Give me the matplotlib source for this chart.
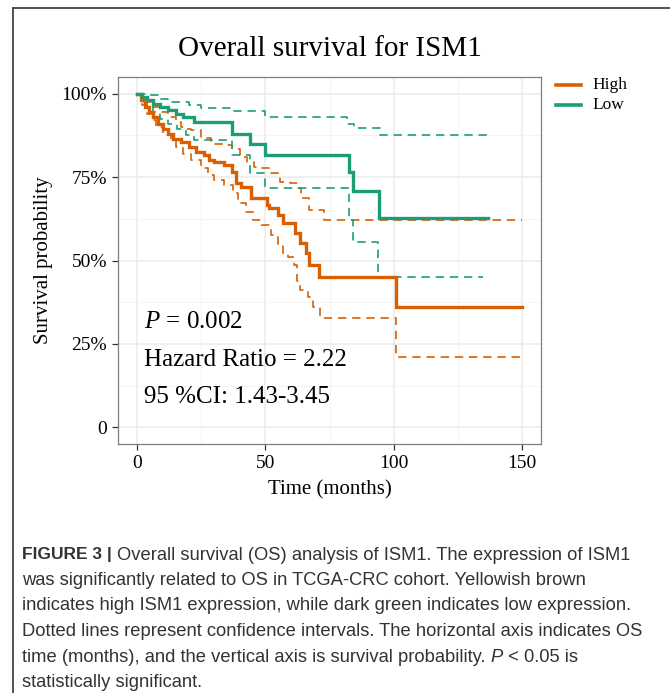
import matplotlib
matplotlib.use("Agg")
import matplotlib.pyplot as plt
from matplotlib.lines import Line2D

# --- Data ---
high_t = [0, 1.5, 3, 4.5, 6, 8, 10, 12, 14, 17, 20, 23, 26, 28, 30, 34, 37, 38.6, 40.5,
          44.5, 50.5, 51.5, 55, 57, 61.5, 63.5, 66, 67, 71, 101, 150]
high_s = [1.0, 0.98, 0.96, 0.945, 0.93, 0.91, 0.895, 0.88, 0.865, 0.855, 0.84, 0.825, 0.815,
          0.80, 0.795, 0.786, 0.766, 0.731, 0.72, 0.686, 0.666, 0.656, 0.636, 0.611, 0.581,
          0.551, 0.521, 0.487, 0.45, 0.36, 0.36]

high_up_t = [0, 2, 4, 6, 9, 12, 15, 17, 19, 21, 25, 28.8, 34, 37, 40, 43, 45.7, 47.7, 51.6,
             55.5, 59.4, 62.7, 64, 66.9, 73, 150]
high_up_s = [1.0, 0.99, 0.975, 0.96, 0.945, 0.93, 0.915, 0.90, 0.895, 0.89, 0.866, 0.85,
             0.845, 0.835, 0.81, 0.795, 0.78, 0.776, 0.761, 0.736, 0.731, 0.716, 0.686,
             0.651, 0.622, 0.622]

high_lo_t = [0, 2, 4, 6, 7.5, 10, 13, 15, 17.7, 21, 25, 27.5, 30, 34, 37.3, 39.3, 42.5, 45,
             48.4, 52.3, 55, 57, 59, 61, 62.5, 63.5, 66.7, 68.6, 71.2, 101, 150]
high_lo_s = [1.0, 0.965, 0.94, 0.92, 0.9, 0.875, 0.86, 0.84, 0.82, 0.80, 0.776, 0.756, 0.741,
             0.726, 0.701, 0.671, 0.646, 0.621, 0.606, 0.576, 0.55, 0.52, 0.511, 0.487,
             0.44, 0.412, 0.392, 0.362, 0.327, 0.21, 0.21]

low_t = [0, 2, 4, 6, 9, 12, 15, 18, 22, 37, 44, 50, 82.5, 84, 94.3, 137]
low_s = [1.0, 0.99, 0.98, 0.97, 0.96, 0.95, 0.94, 0.93, 0.915, 0.88, 0.85, 0.815, 0.764,
         0.708, 0.628, 0.628]

low_up_t = [0, 4, 8, 12, 20, 25, 37, 50, 82, 84.5, 94.7, 137]
low_up_s = [1.0, 0.995, 0.985, 0.975, 0.965, 0.958, 0.948, 0.93, 0.91, 0.897, 0.875, 0.875]

low_lo_t = [0, 2, 4, 6, 9, 12, 15.7, 19, 22.3, 37, 44, 50, 82.5, 84, 94, 135]
low_lo_s = [1.0, 0.975, 0.96, 0.945, 0.925, 0.91, 0.895, 0.875, 0.86, 0.815, 0.761, 0.716,
            0.62, 0.556, 0.452, 0.452]

x_ticks = [0, 50, 100, 150]
y_ticks = [0, 0.25, 0.5, 0.75, 1.0]
y_tick_labels = ["0", "25%", "50%", "75%", "100%"]
groups = ["High", "Low"]
stats = [r"$\mathit{P}$ = 0.002", "Hazard Ratio = 2.22", "95 %CI: 1.43-3.45"]

caption = [
    [("FIGURE 3 | ", "bold"), ("Overall survival (OS) analysis of ISM1. The expression of ISM1", "normal")],
    [("was significantly related to OS in TCGA-CRC cohort. Yellowish brown", "normal")],
    [("indicates high ISM1 expression, while dark green indicates low expression.", "normal")],
    [("Dotted lines represent confidence intervals. The horizontal axis indicates OS", "normal")],
    [("time (months), and the vertical axis is survival probability. ", "normal"), ("P", "italic"),
     (" < 0.05 is", "normal")],
    [("statistically significant.", "normal")],
]

# --- Style ---
ORANGE = "#D95F02"
GREEN = "#1B9E77"
SERIF = ["Liberation Serif", "DejaVu Serif"]
SANS = ["Liberation Sans", "DejaVu Sans"]
plt.rcParams["mathtext.fontset"] = "custom"
plt.rcParams["mathtext.rm"] = "Liberation Serif"
plt.rcParams["mathtext.it"] = "Liberation Serif:italic"

W, H = 670, 693
fig = plt.figure(figsize=(W / 100, H / 100), dpi=100)


def fx(px):
    return px / W


def fy(py):
    return 1 - py / H


# outer frame (left and top edges visible)
fig.add_artist(Line2D([fx(13), fx(13)], [fy(8), 0], color="#444444", lw=1.3))
fig.add_artist(Line2D([fx(13), 1], [fy(8), fy(8)], color="#444444", lw=1.3))

# panel
left, right, top, bottom = 118, 541, 77, 444
ax = fig.add_axes([fx(left), fy(bottom), fx(right - left), (bottom - top) / H])
ax.set_xlim(-7.5, 157.5)
ax.set_ylim(-0.05, 1.05)

ax.set_xticks(x_ticks)
ax.set_xticks([25, 75, 125], minor=True)
ax.set_yticks(y_ticks)
ax.set_yticklabels(y_tick_labels)
ax.set_yticks([0.125, 0.375, 0.625, 0.875], minor=True)
ax.grid(True, which="major", color="#EBEBEB", lw=1.1)
ax.grid(True, which="minor", color="#F2F2F2", lw=0.6)
ax.set_axisbelow(True)
ax.tick_params(which="minor", length=0)
ax.tick_params(which="major", length=4, width=0.9, color="#333333", labelsize=14, pad=4)
for lab in ax.get_xticklabels() + ax.get_yticklabels():
    lab.set_family(SERIF)
for sp in ax.spines.values():
    sp.set_color("#7F7F7F")
    sp.set_linewidth(0.9)

# curves
dash = (0, (5, 3.5))
ax.step(high_up_t, high_up_s, where="post", color=ORANGE, lw=1.2, ls=dash)
ax.step(high_lo_t, high_lo_s, where="post", color=ORANGE, lw=1.2, ls=dash)
ax.step(low_up_t, low_up_s, where="post", color=GREEN, lw=1.2, ls=dash)
ax.step(low_lo_t, low_lo_s, where="post", color=GREEN, lw=1.2, ls=dash)
ax.step(high_t, high_s, where="post", color=ORANGE, lw=2.4, solid_joinstyle="miter")
ax.step(low_t, low_s, where="post", color=GREEN, lw=2.4, solid_joinstyle="miter")

# statistics text
for i, s in enumerate(stats):
    ax.text(2.5, 0.316 - i * 0.113, s, fontsize=18, family=SERIF, va="center", ha="left")

ax.set_xlabel("Time (months)", fontsize=15, family=SERIF, labelpad=6)
ax.set_ylabel("Survival probability", fontsize=15, family=SERIF, labelpad=6)

fig.text(fx((left + right) / 2), fy(49), "Overall survival for ISM1", fontsize=21,
         family=SERIF, ha="center", va="center")

# legend
for i, (g, c) in enumerate(zip(groups, [ORANGE, GREEN])):
    y = fy(85 + 20 * i)
    fig.add_artist(Line2D([fx(556), fx(581)], [y, y], color=c, lw=2.6))
    fig.text(fx(592), y, g, fontsize=12.5, family=SERIF, va="center", ha="left")

# caption, built piece by piece so weights can mix on a line
fig.canvas.draw()
renderer = fig.canvas.get_renderer()
for i, line in enumerate(caption):
    x = fx(22)
    y = fy(555 + 25.5 * i)
    for txt, style in line:
        kw = dict(fontsize=13.2, family=SANS, color="#333333", va="center", ha="left")
        if style == "bold":
            kw["weight"] = "bold"
            kw["fontsize"] = 12.5
        if style == "italic":
            kw["style"] = "italic"
        t = fig.text(x, y, txt, **kw)
        bb = t.get_window_extent(renderer)
        x += bb.width / W

fig.savefig("out.png", dpi=100)
